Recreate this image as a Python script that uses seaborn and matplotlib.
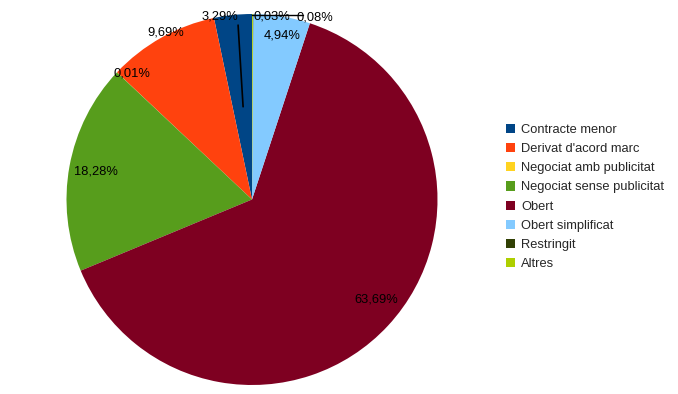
import numpy as np
import seaborn as sns
import matplotlib.pyplot as plt
from matplotlib.patches import Patch

# procediments d'adjudicació (% de l'import)
categories = ['Contracte menor', "Derivat d'acord marc", 'Negociat amb publicitat',
              'Negociat sense publicitat', 'Obert', 'Obert simplificat',
              'Restringit', 'Altres']
shares = [3.29, 9.69, 0.01, 18.28, 63.69, 4.94, 0.03, 0.08]
pct_labels = ['3,29%', '9,69%', '0,01%', '18,28%', '63,69%', '4,94%', '0,03%', '0,08%']
colors = ['#004586', '#ff420e', '#ffd320', '#579d1c', '#7e0021', '#83caff',
          '#314004', '#aecf00']

sns.set_style('white')
plt.rcParams['font.family'] = ['Liberation Sans', 'DejaVu Sans']

fig = plt.figure(figsize=(6.78, 3.94), dpi=100)
R = 185.5
ax = fig.add_axes([(252 - R) / 678, (394 - 199.5 - R) / 394, 2 * R / 678, 2 * R / 394])

wedges, _ = ax.pie(shares, colors=colors, startangle=90, counterclock=True,
                   wedgeprops=dict(linewidth=0))
ax.set_xlim(-1, 1)
ax.set_ylim(-1, 1)
ax.set_aspect('equal')
ax.axis('off')

# label placement: (radius factor, angle offset in degrees)
label_pos = [(1.0, 4), (1.01, -2), (0.94, -3), (0.855, 0), (0.86, 4),
             (0.9, -1), (0.99, -6), (1.04, -19)]
for w, lab, (rf, off) in zip(wedges, pct_labels, label_pos):
    ang = np.deg2rad((w.theta1 + w.theta2) / 2 + off)
    ax.text(rf * np.cos(ang), rf * np.sin(ang), lab, ha='center', va='center',
            fontsize=9.3, color='black')

# leader lines
ax.plot([-0.075, -0.048], [0.94, 0.50], color='black', lw=1.2)
ax.plot([0.0, 0.275], [0.995, 0.995], color='black', lw=1.0)

handles = [Patch(facecolor=c, edgecolor='none') for c in colors]
fig.legend(handles, categories, loc='center left', bbox_to_anchor=(0.738, 0.500),
           frameon=False, fontsize=9.3, handlelength=0.72, handleheight=0.72,
           handletextpad=0.5, labelspacing=0.55, borderaxespad=0)

fig.savefig('out.png', dpi=100)
